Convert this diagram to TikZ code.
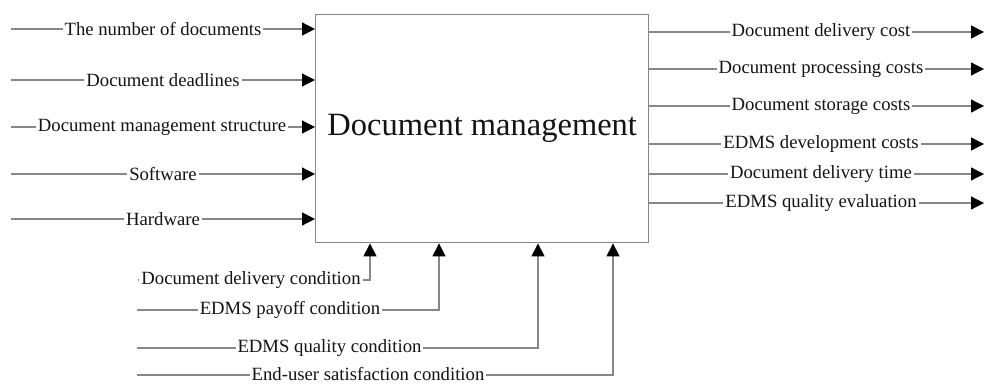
\documentclass[tikz,border=0pt]{standalone}
\usepackage{fontspec}
\setmainfont{Liberation Serif}
\usetikzlibrary{arrows.meta}
\definecolor{linegray}{RGB}{135,135,135}
\definecolor{txt}{RGB}{20,20,20}
\begin{document}
\begin{tikzpicture}[x=1pt,y=-1pt,
  conn/.style={draw=linegray, line width=1.2pt},
  arr/.style={-{Triangle[length=13pt,width=13pt,color=black]}},
  lab/.style={fill=white, inner xsep=2pt, inner ysep=0pt, text=txt,
    font=\fontsize{18.7}{20}\selectfont}]
\useasboundingbox (0,0) rectangle (984,385);

\node[draw=linegray, line width=1.4pt, minimum width=333pt, minimum height=228pt,
  anchor=north west, inner sep=0pt, text=txt,
  font=\fontsize{32.5}{36}\selectfont] (dm) at (315,14) {Document management};

% inputs
\coordinate (i1s) at (11,29);
\coordinate (i2s) at (11,80);
\coordinate (i3s) at (11,127);
\coordinate (i4s) at (11,174);
\coordinate (i5s) at (11,219);
\foreach \c in {i1s,i2s,i3s,i4s,i5s}
  \draw[conn,arr] (\c) -- (\c -| dm.west);
\node[lab] (i1) at (163,29) {The number of documents};
\node[lab] (i2) at (163,80) {Document deadlines};
\node[lab] (i3) at (162,127) {Document management structure};
\node[lab] (i4) at (163,174) {Software};
\node[lab] (i5) at (163,219) {Hardware};

% outputs
\coordinate (o1e) at (984,32);
\coordinate (o2e) at (984,69);
\coordinate (o3e) at (984,106);
\coordinate (o4e) at (984,144);
\coordinate (o5e) at (984,174);
\coordinate (o6e) at (984,203);
\foreach \c in {o1e,o2e,o3e,o4e,o5e,o6e}
  \draw[conn,arr] (\c -| dm.east) -- (\c);
\node[lab] (o1) at (821,32) {Document delivery cost};
\node[lab] (o2) at (821,69) {Document processing costs};
\node[lab] (o3) at (821,106) {Document storage costs};
\node[lab] (o4) at (821,144) {EDMS development costs};
\node[lab] (o5) at (821,174) {Document delivery time};
\node[lab] (o6) at (821,203) {EDMS quality evaluation};

% controls
\coordinate (b1s) at (138,280);
\coordinate (b2s) at (137,310);
\coordinate (b3s) at (137,348);
\coordinate (b4s) at (137,375);
\coordinate (b1t) at (370,0);
\coordinate (b2t) at (439,0);
\coordinate (b3t) at (538,0);
\coordinate (b4t) at (613,0);
\draw[conn,arr] (b1s) -| (b1t |- dm.south);
\draw[conn,arr] (b2s) -| (b2t |- dm.south);
\draw[conn,arr] (b3s) -| (b3t |- dm.south);
\draw[conn,arr] (b4s) -| (b4t |- dm.south);
\node[lab] (b1) at (251,280) {Document delivery condition};
\node[lab] (b2) at (290,310) {EDMS payoff condition};
\node[lab] (b3) at (329.5,348) {EDMS quality condition};
\node[lab] (b4) at (368,374) {End-user satisfaction condition};
\end{tikzpicture}
\end{document}
